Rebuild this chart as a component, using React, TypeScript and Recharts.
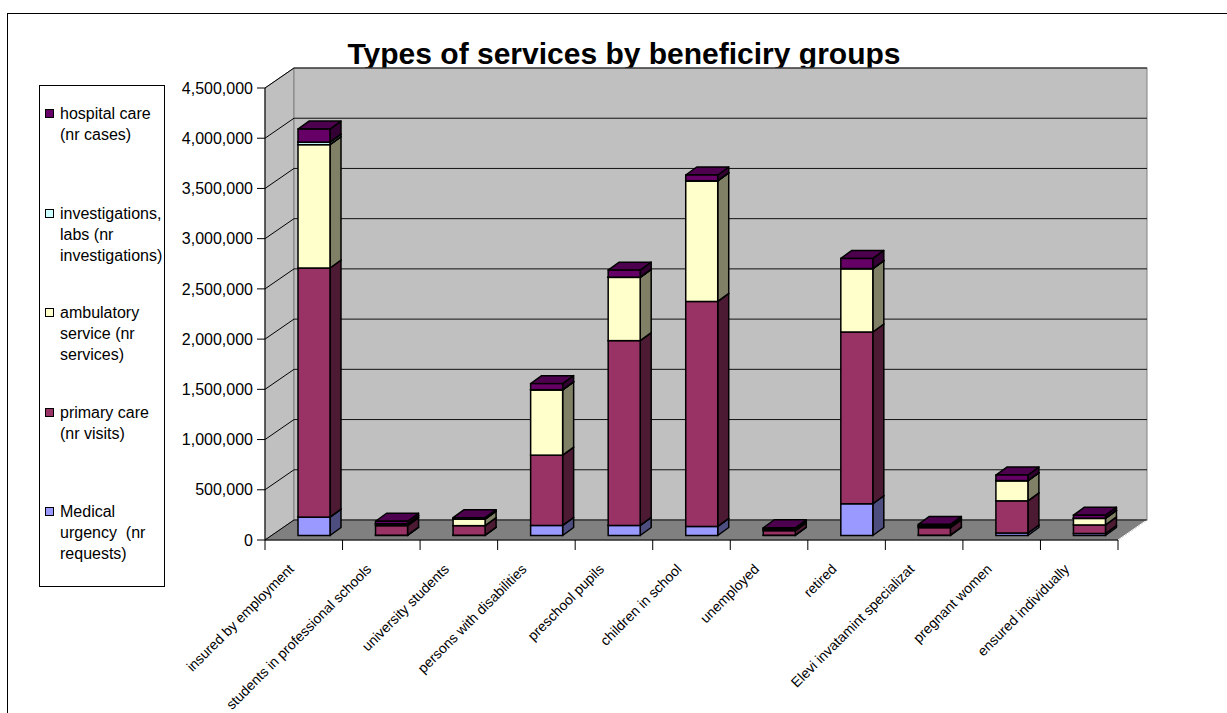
import React from 'react';
import { BarChart, Bar, XAxis, YAxis, CartesianGrid, Legend } from 'recharts';

// beneficiary groups (x axis)
const categories = [
  'insured by employment',
  'students in professional schools',
  'university students',
  'persons with disabilities',
  'preschool pupils',
  'children in school',
  'unemployed',
  'retired',
  'Elevi invatamint specializat',
  'pregnant women',
  'ensured individually',
];

// values
const medicalUrgency = [183000, 3000, 3000, 100000, 100000, 90000, 3000, 316000, 3000, 25000, 20000];
const primaryCare = [2480000, 95000, 95000, 700000, 1840000, 2240000, 45000, 1710000, 75000, 320000, 85000];
const ambulatoryService = [1228000, 17000, 65000, 650000, 630000, 1200000, 15000, 630000, 15000, 200000, 65000];
const investigationsLabs = [25000, 2000, 2000, 2000, 2000, 2000, 2000, 2000, 2000, 2000, 2000];
const hospitalCare = [130000, 25000, 12000, 60000, 70000, 57000, 12000, 100000, 15000, 55000, 30000];

const yTicks = [0, 500000, 1000000, 1500000, 2000000, 2500000, 3000000, 3500000, 4000000, 4500000];

const data = categories.map((name, i) => ({
  name,
  medical: medicalUrgency[i],
  primary: primaryCare[i],
  ambulatory: ambulatoryService[i],
  investigations: investigationsLabs[i],
  hospital: hospitalCare[i],
}));

// layout
const W = 1227;
const H = 713;
const PLOT_LEFT = 265;
const PLOT_TOP = 88;
const PLOT_RIGHT = 1118;
const PLOT_BOTTOM = 540;
const Y_AXIS_W = 80;
const X_AXIS_H = 100;
const WALL_DX = 29; // depth of the 3d walls
const WALL_DY = 20;
const BAR_SHIFT_X = 10; // bars sit part way into the depth
const BAR_SHIFT_Y = -4.5;
const BOX_DX = 11; // depth of each bar box
const BOX_DY = 8;
const STEP = (PLOT_RIGHT - PLOT_LEFT) / categories.length;
const FONT = '"Liberation Sans", Arial, sans-serif';

const series = [
  { key: 'medical', name: 'Medical urgency  (nr requests)', front: '#9999FF', side: '#4D4D80', top: '#7373BF', lines: ['Medical', 'urgency  (nr', 'requests)'] },
  { key: 'primary', name: 'primary care (nr visits)', front: '#993366', side: '#4D1A33', top: '#73264D', lines: ['primary care', '(nr visits)'] },
  { key: 'ambulatory', name: 'ambulatory service (nr services)', front: '#FFFFCC', side: '#808066', top: '#BFBF99', lines: ['ambulatory', 'service (nr', 'services)'] },
  { key: 'investigations', name: 'investigations, labs (nr investigations)', front: '#CCFFFF', side: '#668080', top: '#99BFBF', lines: ['investigations,', 'labs (nr', 'investigations)'] },
  { key: 'hospital', name: 'hospital care (nr cases)', front: '#660066', side: '#330033', top: '#4D004D', lines: ['hospital care', '(nr cases)'] },
];

// draws one stacked segment as a little 3d box
const boxShape = (s: typeof series[number]) => (props: any) => {
  const { x, y, width, height } = props;
  if (x == null || y == null) return <g />;
  const x0 = x + BAR_SHIFT_X;
  const y0 = y + BAR_SHIFT_Y;
  const w = width;
  const h = Math.max(height, 0);
  const side = `${x0 + w},${y0} ${x0 + w + BOX_DX},${y0 - BOX_DY} ${x0 + w + BOX_DX},${y0 + h - BOX_DY} ${x0 + w},${y0 + h}`;
  const top = `${x0},${y0} ${x0 + BOX_DX},${y0 - BOX_DY} ${x0 + w + BOX_DX},${y0 - BOX_DY} ${x0 + w},${y0}`;
  return (
    <g>
      <polygon points={side} fill={s.side} stroke="#000" strokeWidth={1.5} strokeLinejoin="round" />
      <polygon points={top} fill={s.top} stroke="#000" strokeWidth={1.5} strokeLinejoin="round" />
      <rect x={x0} y={y0} width={w} height={h} fill={s.front} stroke="#000" strokeWidth={1.5} />
    </g>
  );
};

// horizontal gridlines moved onto the left and back walls
const gridLine = (p: any) => (
  <g key={`grid-${p.index}`}>
    <line x1={p.x1} y1={p.y1} x2={p.x1 + WALL_DX} y2={p.y1 - WALL_DY} stroke="#000" />
    <line x1={p.x1 + WALL_DX} y1={p.y1 - WALL_DY} x2={p.x2 + WALL_DX} y2={p.y1 - WALL_DY} stroke="#111" />
  </g>
);

const CategoryTick = (props: any) => {
  const { x, y, payload, index } = props;
  const ax = x - 9;
  const ay = y + 30;
  return (
    <g>
      <line x1={x - STEP / 2} y1={y} x2={x - STEP / 2} y2={y + 10} stroke="#000" />
      {index === categories.length - 1 && (
        <line x1={x + STEP / 2} y1={y} x2={x + STEP / 2} y2={y + 10} stroke="#000" />
      )}
      <text
        x={ax}
        y={ay}
        textAnchor="end"
        transform={`rotate(-45 ${ax} ${ay})`}
        fontSize={14}
        fontFamily={FONT}
        fill="#000"
      >
        {payload.value}
      </text>
    </g>
  );
};

// legend lists the series top to bottom in reverse stacking order
const renderLegend = (props: any) => {
  const payload: any[] = props.payload ?? [];
  const items = [...series].reverse();
  return (
    <div
      style={{
        width: 126,
        height: 502,
        boxSizing: 'border-box',
        border: '1px solid #000',
        background: '#fff',
        position: 'relative',
        fontFamily: FONT,
        fontSize: 16,
        lineHeight: '21px',
        color: '#000',
      }}
    >
      {items.map((s, i) => {
        const entry = payload.find((p) => p.value === s.name);
        return (
          <div key={s.key} style={{ position: 'absolute', left: 0, top: 17 + i * 99.5 }}>
            <div
              style={{
                position: 'absolute',
                left: 5,
                top: 6,
                width: 9,
                height: 9,
                boxSizing: 'border-box',
                border: '1px solid #000',
                background: entry?.color ?? s.front,
              }}
            />
            <div style={{ position: 'absolute', left: 20, top: 0, whiteSpace: 'pre' }}>
              {s.lines.map((line) => (
                <div key={line}>{line}</div>
              ))}
            </div>
          </div>
        );
      })}
    </div>
  );
};

export default function App() {
  const leftWall = `${PLOT_LEFT},${PLOT_TOP} ${PLOT_LEFT + WALL_DX},${PLOT_TOP - WALL_DY} ${PLOT_LEFT + WALL_DX},${PLOT_BOTTOM - WALL_DY} ${PLOT_LEFT},${PLOT_BOTTOM}`;
  const floor = `${PLOT_LEFT},${PLOT_BOTTOM} ${PLOT_LEFT + WALL_DX},${PLOT_BOTTOM - WALL_DY} ${PLOT_RIGHT + WALL_DX},${PLOT_BOTTOM - WALL_DY} ${PLOT_RIGHT},${PLOT_BOTTOM}`;

  return (
    <div
      style={{
        position: 'absolute',
        left: 0,
        top: 0,
        width: W,
        height: H,
        overflow: 'hidden',
        background: '#fff',
        fontFamily: FONT,
      }}
    >
      <svg width={W} height={H} style={{ position: 'absolute', left: 0, top: 0 }}>
        <rect x={7.5} y={13.5} width={W + 40} height={H + 40} fill="#fff" stroke="#000" />
        <text x={624} y={64} textAnchor="middle" fontSize={30} fontWeight="bold" fontFamily={FONT} fill="#000">
          Types of services by beneficiry groups
        </text>
        <polygon points={leftWall} fill="#C0C0C0" stroke="#808080" />
        <rect
          x={PLOT_LEFT + WALL_DX}
          y={PLOT_TOP - WALL_DY}
          width={PLOT_RIGHT - PLOT_LEFT}
          height={PLOT_BOTTOM - PLOT_TOP}
          fill="#C0C0C0"
          stroke="#808080"
        />
        <polygon points={floor} fill="#808080" stroke="#808080" />
        <line
          x1={PLOT_RIGHT}
          y1={PLOT_BOTTOM}
          x2={PLOT_RIGHT + WALL_DX}
          y2={PLOT_BOTTOM - WALL_DY}
          stroke="#fff"
        />
      </svg>
      <div style={{ position: 'absolute', left: 0, top: 0 }}>
        <BarChart
          width={W}
          height={H}
          data={data}
          barSize={32}
          margin={{
            top: PLOT_TOP,
            right: W - PLOT_RIGHT,
            bottom: H - PLOT_BOTTOM - X_AXIS_H,
            left: PLOT_LEFT - Y_AXIS_W,
          }}
        >
          <CartesianGrid vertical={false} horizontal={gridLine} />
          <XAxis
            dataKey="name"
            interval={0}
            height={X_AXIS_H}
            tickLine={false}
            tickSize={0}
            tickMargin={0}
            axisLine={{ stroke: '#000' }}
            tick={(p: any) => <CategoryTick {...p} />}
          />
          <YAxis
            width={Y_AXIS_W}
            domain={[0, 4500000]}
            ticks={yTicks}
            interval={0}
            tickSize={8}
            tickMargin={4}
            axisLine={{ stroke: '#000' }}
            tickLine={{ stroke: '#000' }}
            tick={{ fill: '#000', fontSize: 16, fontFamily: FONT }}
            tickFormatter={(v: number) => v.toLocaleString('en-US')}
          />
          {series.map((s) => (
            <Bar
              key={s.key}
              dataKey={s.key}
              name={s.name}
              stackId="total"
              fill={s.front}
              shape={boxShape(s)}
              isAnimationActive={false}
            />
          ))}
          <Legend
            layout="vertical"
            align="center"
            verticalAlign="middle"
            content={renderLegend}
            wrapperStyle={{ position: 'absolute', left: 39, top: 85, width: 126, height: 502 }}
          />
        </BarChart>
      </div>
    </div>
  );
}
